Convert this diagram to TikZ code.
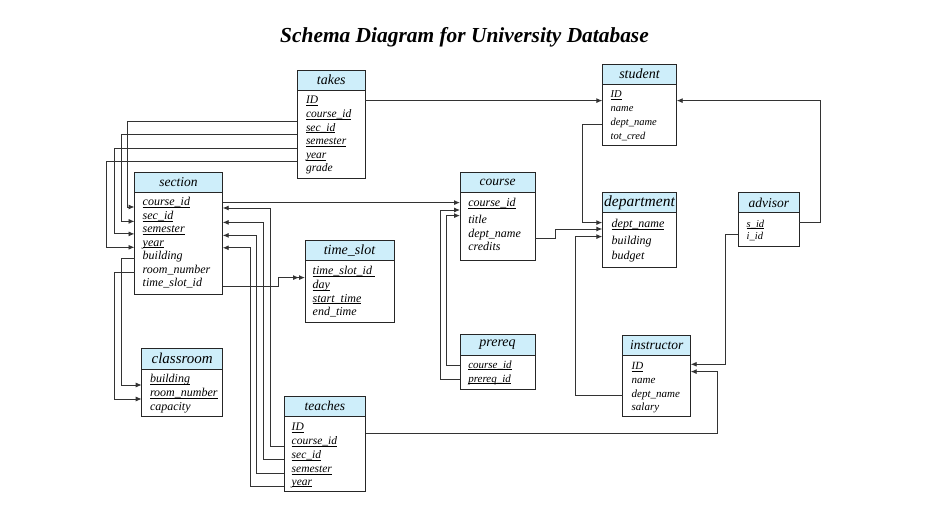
\documentclass[tikz,border=0pt]{standalone}
\usepackage{fontspec}
\setmainfont{Liberation Serif}
\usetikzlibrary{calc,arrows.meta}
\definecolor{hdrblue}{RGB}{206,238,250}
\newcommand\fsz[1]{\fontsize{#1}{#1}\selectfont\itshape}
\newcommand\ul[1]{\underline{\smash{#1}}}
\begin{document}
\begin{tikzpicture}[x=1pt,y=-1pt,
  hdr/.style={draw=black!85, line width=0.9pt, fill=hdrblue, anchor=north west, inner sep=0pt, outer sep=0pt, font=\fsz{13.5}},
  bdy/.style={draw=black!85, line width=0.9pt, fill=white, anchor=north west, inner sep=0pt, outer sep=0pt},
  rw/.style={anchor=mid west, inner sep=0pt, outer sep=0pt},
  fk/.style={draw=black!80, line width=0.9pt, -{Latex[length=6pt,width=5pt]}},
  fkk/.style={draw=black!80, line width=0.9pt, -{Latex[length=6pt,width=5pt] Latex[length=6pt,width=5pt]}}
]
\useasboundingbox (0,0) rectangle (928,524);

% title
\node[anchor=base, inner sep=0pt] (title) at (464.5,43) {\fontsize{21.4}{21.4}\selectfont\bfseries\itshape Schema Diagram for University Database};

% ---------- tables ----------
% takes
\node[hdr, minimum width=68pt, minimum height=20pt, font=\fsz{14}] (takes) at (297.3,70) {takes};
\node[bdy, minimum width=68pt, minimum height=88.3pt] (takes-b) at (takes.south west) {};
\begin{scope}[nodes={rw, font=\fsz{11.5}}]
\node (takes-1) at (306,101.7) {\ul{ID}};
\node (takes-2) at (306,115.3) {\ul{course\_id}};
\node (takes-3) at (306,128.9) {\ul{sec\_id}};
\node (takes-4) at (306,142.5) {\ul{semester}};
\node (takes-5) at (306,156.1) {\ul{year}};
\node (takes-6) at (306,169.7) {grade};
\end{scope}

% student
\node[hdr, minimum width=74.4pt, minimum height=20pt, font=\fsz{14}] (student) at (602.3,64) {student};
\node[bdy, minimum width=74.4pt, minimum height=61pt] (student-b) at (student.south west) {};
\begin{scope}[nodes={rw, font=\fsz{10.5}}]
\node (student-1) at (610.7,95.3) {\ul{ID}};
\node (student-2) at (610.7,109.2) {name};
\node (student-3) at (610.7,123.1) {dept\_name};
\node (student-4) at (610.7,137) {tot\_cred};
\end{scope}

% section
\node[hdr, minimum width=88.2pt, minimum height=20.7pt] (section) at (134.5,172) {section};
\node[bdy, minimum width=88.2pt, minimum height=101.3pt] (section-b) at (section.south west) {};
\begin{scope}[nodes={rw, font=\fsz{12}}]
\node (section-1) at (142.7,203.7) {\ul{course\_id}};
\node (section-2) at (142.7,217.1) {\ul{sec\_id}};
\node (section-3) at (142.7,230.6) {\ul{semester}};
\node (section-4) at (142.7,244) {\ul{year}};
\node (section-5) at (142.7,257.4) {building};
\node (section-6) at (142.7,270.9) {room\_number};
\node (section-7) at (142.7,284.3) {time\_slot\_id};
\end{scope}

% course
\node[hdr, minimum width=75pt, minimum height=20pt] (course) at (460,172.3) {course};
\node[bdy, minimum width=75pt, minimum height=67.7pt] (course-b) at (course.south west) {};
\begin{scope}[nodes={rw, font=\fsz{12}}]
\node (course-1) at (468.3,204.3) {\ul{course\_id}};
\node (course-2) at (468.3,221.7) {title};
\node (course-3) at (468.3,235) {dept\_name};
\node (course-4) at (468.3,248.3) {credits};
\end{scope}

% department
\node[hdr, minimum width=74.4pt, minimum height=20pt, font=\fsz{15.5}] (department) at (602.3,192.7) {department};
\node[bdy, minimum width=74.4pt, minimum height=54.6pt] (department-b) at (department.south west) {};
\begin{scope}[nodes={rw, font=\fsz{12}}]
\node (department-1) at (611.7,225.3) {\ul{dept\_name}};
\node (department-2) at (611.7,242) {building};
\node (department-3) at (611.7,257.7) {budget};
\end{scope}

% advisor
\node[hdr, minimum width=61pt, minimum height=20pt] (advisor) at (738.3,192.7) {advisor};
\node[bdy, minimum width=61pt, minimum height=34pt] (advisor-b) at (advisor.south west) {};
\begin{scope}[nodes={rw, font=\fsz{10.5}}]
\node (advisor-1) at (746.7,225) {\ul{s\_id}};
\node (advisor-2) at (746.7,237.7) {i\_id};
\end{scope}

% time_slot
\node[hdr, minimum width=89pt, minimum height=20.5pt, font=\fsz{14}] (timeslot) at (305,240) {time\_slot};
\node[bdy, minimum width=89pt, minimum height=62.2pt] (timeslot-b) at (timeslot.south west) {};
\begin{scope}[nodes={rw, font=\fsz{12}}]
\node (timeslot-1) at (312.7,272.7) {\ul{time\_slot\_id\ }};
\node (timeslot-2) at (312.7,286.7) {\ul{day}};
\node (timeslot-3) at (312.7,300) {\ul{start\_time}};
\node (timeslot-4) at (312.7,313.3) {end\_time};
\end{scope}

% classroom
\node[hdr, minimum width=81pt, minimum height=21pt, font=\fsz{15}] (classroom) at (141.7,348.3) {classroom};
\node[bdy, minimum width=81pt, minimum height=47.4pt] (classroom-b) at (classroom.south west) {};
\begin{scope}[nodes={rw, font=\fsz{12}}]
\node (classroom-1) at (150,380.3) {\ul{building}};
\node (classroom-2) at (150,394.3) {\ul{room\_number}};
\node (classroom-3) at (150,408.3) {capacity};
\end{scope}

% prereq
\node[hdr, minimum width=75pt, minimum height=20.7pt, font=\fsz{14}] (prereq) at (460,334.3) {prereq};
\node[bdy, minimum width=75pt, minimum height=34pt] (prereq-b) at (prereq.south west) {};
\begin{scope}[nodes={rw, font=\fsz{11}}]
\node (prereq-1) at (468.3,366) {\ul{course\_id}};
\node (prereq-2) at (468.3,380) {\ul{prereq\_id}};
\end{scope}

% instructor
\node[hdr, minimum width=68pt, minimum height=20pt] (instructor) at (622.7,335) {instructor};
\node[bdy, minimum width=68pt, minimum height=61.7pt] (instructor-b) at (instructor.south west) {};
\begin{scope}[nodes={rw, font=\fsz{11}}]
\node (instructor-1) at (631.7,367.7) {\ul{ID}};
\node (instructor-2) at (631.7,381) {name};
\node (instructor-3) at (631.7,395.3) {dept\_name};
\node (instructor-4) at (631.7,408.7) {salary};
\end{scope}

% teaches
\node[hdr, minimum width=81.7pt, minimum height=20pt] (teaches) at (284,396) {teaches};
\node[bdy, minimum width=81.7pt, minimum height=75pt] (teaches-b) at (teaches.south west) {};
\begin{scope}[nodes={rw, font=\fsz{11.5}}]
\node (teaches-1) at (291.7,428.3) {\ul{ID}};
\node (teaches-2) at (291.7,442.7) {\ul{course\_id}};
\node (teaches-3) at (291.7,456) {\ul{sec\_id}};
\node (teaches-4) at (291.7,470.3) {\ul{semester}};
\node (teaches-5) at (291.7,482.7) {\ul{year}};
\end{scope}

% ---------- routing columns ----------
\coordinate (v2) at (127.7,0);
\coordinate (v3) at (121.7,0);
\coordinate (v4) at (114.3,0);
\coordinate (v5) at (106.7,0);
\coordinate (v7) at (270.7,0);
\coordinate (v8) at (263.3,0);
\coordinate (v9) at (256.5,0);
\coordinate (v10) at (250.3,0);
\coordinate (v11) at (121,0);
\coordinate (v12) at (114,0);
\coordinate (v13) at (278.3,0);
\coordinate (v14) at (446.5,0);
\coordinate (v15) at (440.5,0);
\coordinate (v16) at (555,0);
\coordinate (v17) at (582.3,0);
\coordinate (v18) at (575.7,0);
\coordinate (v19) at (820.7,0);
\coordinate (v20) at (725,0);
\coordinate (v21) at (717.7,0);

% ---------- ports ----------
\coordinate (q1) at ($(student-b.west |- student-1)+(0,2)$);
\coordinate (p2) at ($(takes-b.west |- takes-2)+(0,2.4)$);
\coordinate (p3) at ($(takes-b.west |- takes-3)+(0,2.4)$);
\coordinate (p4) at ($(takes-b.west |- takes-4)+(0,2.4)$);
\coordinate (p5) at ($(takes-b.west |- takes-5)+(0,2.4)$);
\coordinate (q2) at (section-b.west |- section-1);
\coordinate (q3) at ($(section-b.west |- section-2)+(0,1)$);
\coordinate (q4) at (section-b.west |- section-3);
\coordinate (q5) at (section-b.west |- section-4);
\coordinate (q6) at ($(course-b.west |- course-1)+(0,-5)$);
\coordinate (p7) at (teaches-b.west |- teaches-2);
\coordinate (p8) at (teaches-b.west |- teaches-3);
\coordinate (p9) at (teaches-b.west |- teaches-4);
\coordinate (p10) at (teaches-b.west |- teaches-5);
\coordinate (q7) at ($(section-b.east |- section-1)+(0,1)$);
\coordinate (q8) at ($(section-b.east |- section-2)+(0,2)$);
\coordinate (q9) at ($(section-b.east |- section-3)+(0,1.5)$);
\coordinate (q10) at ($(section-b.east |- section-4)+(0,0.5)$);
\coordinate (p11) at ($(section-b.west |- section-5)+(0,2)$);
\coordinate (p12) at ($(section-b.west |- section-6)+(0,3)$);
\coordinate (q11) at ($(classroom-b.west |- classroom-1)+(0,1.4)$);
\coordinate (q12) at ($(classroom-b.west |- classroom-2)+(0,1.4)$);
\coordinate (p13) at ($(section-b.east |- section-7)+(0,3)$);
\coordinate (q13) at ($(timeslot-b.west |- timeslot-1)+(0,1.6)$);
\coordinate (p14) at ($(prereq-b.west |- prereq-1)+(0,-4.3)$);
\coordinate (p15) at ($(prereq-b.west |- prereq-2)+(0,-4.3)$);
\coordinate (q14) at ($(course-b.west |- course-1)+(0,8)$);
\coordinate (q15) at ($(course-b.west |- course-1)+(0,2.4)$);
\coordinate (p16) at ($(course-b.east |- course-3)+(0,4)$);
\coordinate (q16) at ($(department-b.west |- department-1)+(0,0.4)$);
\coordinate (p17) at ($(student-b.west |- student-3)+(0,1.2)$);
\coordinate (q17) at ($(department-b.west |- department-1)+(0,-6)$);
\coordinate (p18) at ($(instructor-b.west |- instructor-3)+(0,0.7)$);
\coordinate (q18) at ($(department-b.west |- department-1)+(0,8)$);
\coordinate (p19) at ($(advisor-b.east |- advisor-1)+(0,-5.7)$);
\coordinate (q19) at ($(student-b.east |- student-1)+(0,2)$);
\coordinate (p20) at ($(advisor-b.west |- advisor-2)+(0,-2.7)$);
\coordinate (q20) at ($(instructor-b.east |- instructor-1)+(0,-6.7)$);
\coordinate (p21) at ($(teaches-b.east |- teaches-1)+(0,1.7)$);
\coordinate (q21) at ($(instructor-b.east |- instructor-1)+(0,0.6)$);

% ---------- connectors ----------
\draw[fk] (takes-b.east |- q1) -- (q1);
\draw[fk] (p2) -| (v2 |- q2) -- (q2);
\draw[fk] (p3) -| (v3 |- q3) -- (q3);
\draw[fk] (p4) -| (v4 |- q4) -- (q4);
\draw[fk] (p5) -| (v5 |- q5) -- (q5);
\draw[fk] (section-b.east |- q6) -- (q6);
\draw[fk] (p7) -| (v7 |- q7) -- (q7);
\draw[fk] (p8) -| (v8 |- q8) -- (q8);
\draw[fk] (p9) -| (v9 |- q9) -- (q9);
\draw[fk] (p10) -| (v10 |- q10) -- (q10);
\draw[fk] (p11) -| (v11 |- q11) -- (q11);
\draw[fk] (p12) -| (v12 |- q12) -- (q12);
\draw[fkk] (p13) -| (v13 |- q13) -- (q13);
\draw[fk] (p14) -| (v14 |- q14) -- (q14);
\draw[fk] (p15) -| (v15 |- q15) -- (q15);
\draw[fk] (p16) -| (v16 |- q16) -- (q16);
\draw[fk] (p17) -| (v17 |- q17) -- (q17);
\draw[fk] (p18) -| (v18 |- q18) -- (q18);
\draw[fk] (p19) -| (v19 |- q19) -- (q19);
\draw[fk] (p20) -| (v20 |- q20) -- (q20);
\draw[fk] (p21) -| (v21 |- q21) -- (q21);
\end{tikzpicture}
\end{document}
